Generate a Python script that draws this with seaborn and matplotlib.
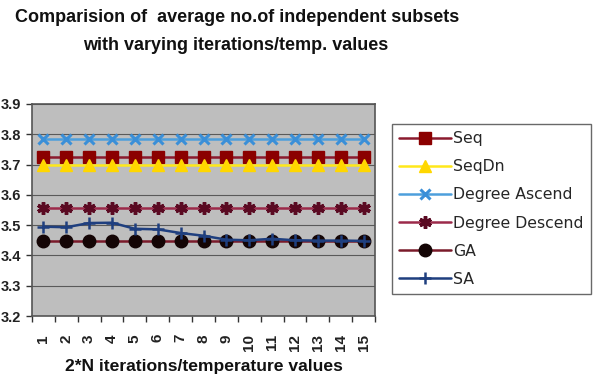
import matplotlib
matplotlib.use("Agg")
import matplotlib.pyplot as plt
import seaborn as sns
import pandas as pd
import numpy as np
from matplotlib.ticker import FixedLocator

sns.set_theme(style="white")
plt.rcParams['font.family'] = ['Liberation Sans', 'DejaVu Sans']

iterations = list(range(1, 16))
tick_labels = [str(i) for i in iterations]
seq = [3.725] * 15
seqdn = [3.698] * 15
deg_asc = [3.783] * 15
deg_desc = [3.556] * 15
ga = [3.446] * 15
sa = [3.495, 3.493, 3.507, 3.508, 3.488, 3.486, 3.474, 3.465, 3.452, 3.450, 3.455, 3.450, 3.449, 3.449, 3.448]

series = [
    ("Seq", seq, dict(color="#8B1A2E", marker="s", mfc="#8B0000", mec="#8B0000", ms=8, mew=1)),
    ("SeqDn", seqdn, dict(color="#FFE81A", marker="^", mfc="#FFD700", mec="#FFD700", ms=8, mew=1)),
    ("Degree Ascend", deg_asc, dict(color="#4D9FDC", marker="x", mfc="#3A8FD8", mec="#3A8FD8", ms=7, mew=2.2)),
    ("Degree Descend", deg_desc, dict(color="#9C2A4A", marker=(6, 2, 0), mfc="#5A0A22", mec="#5A0A22", ms=9, mew=2.5)),
    ("GA", ga, dict(color="#7A1A2A", marker="o", mfc="#140505", mec="#140505", ms=9, mew=1)),
    ("SA", sa, dict(color="#1F3F7F", marker="+", mfc="#1F3F7F", mec="#1F3F7F", ms=9, mew=1.8)),
]

fig = plt.figure(figsize=(5.94, 3.82), dpi=100)
W, H = 594, 382
ax = fig.add_axes([32 / W, 1 - 316 / H, (375 - 32) / W, (316 - 104) / H])
ax.set_facecolor("#BEBEBE")

for name, vals, st in series:
    df = pd.DataFrame({"x": iterations, "y": vals})
    sns.lineplot(data=df, x="x", y="y", ax=ax, color=st["color"], marker=st["marker"],
                 markerfacecolor=st["mfc"], markeredgecolor=st["mec"], markersize=st["ms"],
                 markeredgewidth=st["mew"], linewidth=1.8, label=name)

ax.set_xlim(0.5, 15.5)
ax.set_ylim(3.2, 3.9)
yt = [3.2, 3.3, 3.4, 3.5, 3.6, 3.7, 3.8, 3.9]
ax.set_yticks(yt)
ax.set_yticklabels([f"{v:.1f}" for v in yt], fontsize=10.5, fontweight="bold", color="#222222")
ax.set_xticks(iterations)
ax.set_xticklabels(tick_labels, rotation=90, fontsize=11, fontweight="bold", color="#222222", va="top")
ax.xaxis.set_minor_locator(FixedLocator(np.arange(0.5, 15.6, 1)))
ax.tick_params(axis="x", which="major", length=0, pad=13)
ax.tick_params(axis="x", which="minor", length=4, width=1, color="#333333", direction="out", bottom=True)
ax.tick_params(axis="y", which="major", length=4, width=1, color="#333333", direction="out", left=True, pad=4)
ax.grid(axis="y", color="#5A5A5A", linewidth=0.8)
ax.set_axisbelow(True)
for s in ax.spines.values():
    s.set_color("#555555")
    s.set_linewidth(1.2)

ax.set_xlabel("2*N iterations/temperature values", fontsize=12.6, fontweight="bold", labelpad=6, color="#111111")
ax.set_ylabel("")

fig.text(237 / W, 1 - 18 / H, "Comparision of  average no.of independent subsets", ha="center", va="center",
         fontsize=13, fontweight="bold", color="#111111")
fig.text(236 / W, 1 - 45 / H, "with varying iterations/temp. values", ha="center", va="center",
         fontsize=13, fontweight="bold", color="#111111")

leg = ax.legend(loc="center left", bbox_to_anchor=(392 / W, 1 - 293 / H, (591 - 392) / W, (293 - 125) / H),
                bbox_transform=fig.transFigure, mode="expand", frameon=True, fancybox=False,
                handlelength=3.3, handletextpad=0.15, labelspacing=0.84, borderpad=0.45,
                prop={"family": "DejaVu Sans", "size": 11.3}, borderaxespad=0)
leg.get_frame().set_edgecolor("#444444")
leg.get_frame().set_linewidth(1.0)

fig.savefig("out.png", dpi=100, facecolor="white")
